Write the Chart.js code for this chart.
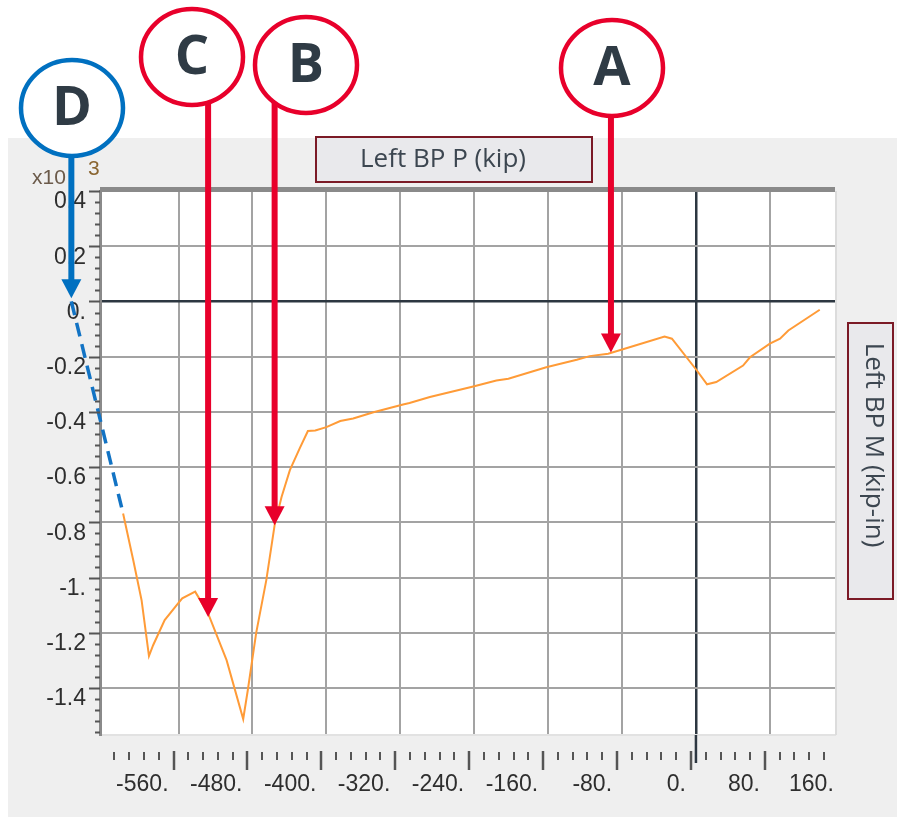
<!DOCTYPE html>
<html>
<head>
<meta charset="utf-8">
<script src="https://cdn.jsdelivr.net/npm/chart.js@4.4.1/dist/chart.umd.min.js"></script>
<style>
  html, body { margin: 0; padding: 0; background: #fff; }
  canvas { display: block; }
</style>
</head>
<body>
<canvas id="chart" width="897" height="817"></canvas>
<script>
// Left BP P (kip) on x, Left BP M (kip-in, x10^3) on y
const pValues = [-620, -609, -600, -592, -587.5, -575, -562, -556, -542, -528,
  -508, -490, -485, -476, -465, -456, -448.5, -439.5, -429, -420,
  -412, -400, -385, -371, -349, -317, -310, -288, -241, -216,
  -203, -162, -129, -115, -95, -71, -34, -26, 1, 12,
  22, 51, 58.5, 80, 91, 100, 134];
const mValues = [-0.768, -0.937, -1.082, -1.284, -1.245, -1.154, -1.100, -1.075, -1.051, -1.130,
  -1.299, -1.512, -1.407, -1.201, -1.009, -0.810, -0.708, -0.611, -0.533, -0.469,
  -0.467, -0.455, -0.433, -0.424, -0.401, -0.373, -0.368, -0.346, -0.308, -0.286,
  -0.280, -0.238, -0.211, -0.198, -0.189, -0.165, -0.127, -0.135, -0.250, -0.300,
  -0.292, -0.232, -0.202, -0.153, -0.135, -0.105, -0.030];

// dashed extension drawn in by hand (D)
const leadP = [-676, -620];
const leadM = [0, -0.768];

const xTickValues = [-560, -480, -400, -320, -240, -160, -80, 0, 80, 160];
const xTickLabels = ['-560.', '-480.', '-400.', '-320.', '-240.', '-160.', '-80.', '0.', '80.', '160.'];
const yTickValues = [-1.4, -1.2, -1, -0.8, -0.6, -0.4, -0.2, 0, 0.2, 0.4];
const yTickLabels = ['-1.4', '-1.2', '-1.', '-0.8', '-0.6', '-0.4', '-0.2', '0.', '0.2', '0.4'];

const callouts = [
  { tag: 'A', p: -92, m: -0.185, color: '#e8002b', cx: 612, cy: 68 },
  { tag: 'B', p: -456, m: -0.81, color: '#e8002b', cx: 306, cy: 65 },
  { tag: 'C', p: -528, m: -1.143, color: '#e8002b', cx: 192, cy: 57 },
  { tag: 'D', p: -676, m: 0.012, color: '#0070c0', cx: 72, cy: 108 }
];

const X_MIN = -645, X_MAX = 150.5;
const tickFont = '"Liberation Sans", Arial, sans-serif';
const boxFont = '"Open Sans", sans-serif';

const backdrop = {
  id: 'backdrop',
  beforeDraw(chart) {
    const { ctx, chartArea: a } = chart;
    ctx.save();
    ctx.fillStyle = '#ffffff';
    ctx.fillRect(0, 0, chart.width, chart.height);
    ctx.fillStyle = '#efefef';
    ctx.fillRect(8, 138, chart.width - 8, chart.height - 138);
    ctx.fillStyle = '#ffffff';
    ctx.fillRect(a.left, a.top, a.right - a.left, a.bottom - a.top);
    ctx.restore();
  }
};

function drawBox(ctx, x, y, w, h) {
  ctx.fillStyle = '#e9e9ec';
  ctx.fillRect(x, y, w, h);
  ctx.strokeStyle = '#7b1a26';
  ctx.lineWidth = 2;
  ctx.strokeRect(x, y, w, h);
}

const frame = {
  id: 'frame',
  afterDraw(chart) {
    const { ctx, chartArea: a } = chart;
    const xs = chart.scales.x, ys = chart.scales.y;
    ctx.save();

    // heavy top edge + light right edge
    ctx.fillStyle = '#8a8a8a';
    ctx.fillRect(a.left, a.top - 4, a.right - a.left, 5);
    ctx.strokeStyle = '#dcdcdc';
    ctx.lineWidth = 2;
    ctx.beginPath();
    ctx.moveTo(a.right + 1, a.top);
    ctx.lineTo(a.right + 1, a.bottom);
    ctx.stroke();

    // y minor / major ticks
    ctx.strokeStyle = '#555555';
    ctx.lineWidth = 2;
    for (let i = 0; ; i++) {
      const v = 0.4 - i * 0.04;
      if (v < ys.min) break;
      const py = Math.round(ys.getPixelForValue(v)) + 0.5;
      const major = Math.abs(v / 0.2 - Math.round(v / 0.2)) < 1e-6;
      ctx.beginPath();
      ctx.moveTo(a.left - (major ? 11 : 5), py);
      ctx.lineTo(a.left, py);
      ctx.stroke();
    }

    // x tick row, sits under the plot with a gap
    for (let v = -624; v <= 144; v += 16) {
      const px = Math.round(xs.getPixelForValue(v)) - 5;
      const major = v % 80 === 0;
      ctx.lineWidth = major ? 2.5 : 2;
      ctx.beginPath();
      ctx.moveTo(px, major ? 751 : 752);
      ctx.lineTo(px, major ? 770 : 760);
      ctx.stroke();
    }

    // x = 0 line runs into the tick row
    ctx.strokeStyle = '#2d3741';
    ctx.lineWidth = 2.5;
    const zx = xs.getPixelForValue(0);
    ctx.beginPath();
    ctx.moveTo(zx, a.bottom);
    ctx.lineTo(zx, 763);
    ctx.stroke();

    // exponent
    ctx.font = '21px ' + tickFont;
    ctx.textBaseline = 'alphabetic';
    ctx.textAlign = 'left';
    ctx.fillStyle = '#6b5a4a';
    ctx.fillText('x10', 32, 184);
    ctx.fillStyle = '#8a6530';
    ctx.fillText('3', 88, 175);

    // axis title boxes
    drawBox(ctx, 316, 137, 276, 45);
    ctx.fillStyle = '#3c4650';
    ctx.font = '26px ' + boxFont;
    ctx.textAlign = 'center';
    ctx.textBaseline = 'middle';
    ctx.fillText('Left BP P (kip)', 443, 160);

    drawBox(ctx, 848, 323, 45, 276);
    ctx.save();
    ctx.translate(873, 445);
    ctx.rotate(Math.PI / 2);
    ctx.fillStyle = '#3c4650';
    ctx.fillText('Left BP M (kip-in)', 0, 0);
    ctx.restore();

    // callouts: arrows first, circles on top
    callouts.forEach(c => {
      const tx = xs.getPixelForValue(c.p);
      const ty = ys.getPixelForValue(c.m);
      ctx.strokeStyle = c.color;
      ctx.fillStyle = c.color;
      ctx.lineWidth = 6;
      ctx.beginPath();
      ctx.moveTo(tx, c.cy);
      ctx.lineTo(tx, ty - 16);
      ctx.stroke();
      ctx.beginPath();
      ctx.moveTo(tx - 10, ty - 19);
      ctx.lineTo(tx + 10, ty - 19);
      ctx.lineTo(tx, ty);
      ctx.closePath();
      ctx.fill();
    });
    callouts.forEach(c => {
      ctx.beginPath();
      ctx.ellipse(c.cx, c.cy, 51, 48, 0, 0, Math.PI * 2);
      ctx.fillStyle = '#ffffff';
      ctx.fill();
      ctx.lineWidth = 4.5;
      ctx.strokeStyle = c.color;
      ctx.stroke();
      ctx.fillStyle = '#2f3b45';
      ctx.font = 'bold 54px ' + boxFont;
      ctx.textAlign = 'center';
      ctx.textBaseline = 'middle';
      ctx.fillText(c.tag, c.cx, c.cy + 2);
    });

    ctx.restore();
  }
};

const gridColor = ctx => {
  const v = ctx.tick ? ctx.tick.value : null;
  if (v === 0) return '#2d3741';
  if (v !== null && (v > X_MAX || v < X_MIN) && ctx.scale.axis === 'x') return 'rgba(0,0,0,0)';
  return '#a3a3a3';
};
const gridWidth = ctx => (ctx.tick && ctx.tick.value === 0 ? 2.5 : 2);

new Chart(document.getElementById('chart'), {
  type: 'scatter',
  data: {
    datasets: [
      {
        data: pValues.map((p, i) => ({ x: p, y: mValues[i] })),
        showLine: true,
        borderColor: '#ff9b37',
        borderWidth: 2,
        pointRadius: 0,
        tension: 0
      },
      {
        data: leadP.map((p, i) => ({ x: p, y: leadM[i] })),
        showLine: true,
        borderColor: '#1273c4',
        borderWidth: 3.5,
        borderDash: [14, 8],
        pointRadius: 0,
        clip: false
      }
    ]
  },
  options: {
    responsive: false,
    animation: false,
    events: [],
    layout: { padding: { left: 0, top: 191, right: 62, bottom: 0 } },
    plugins: { legend: { display: false }, tooltip: { enabled: false } },
    scales: {
      x: {
        type: 'linear',
        min: X_MIN,
        max: X_MAX,
        afterBuildTicks: s => { s.ticks = xTickValues.map(v => ({ value: v })); },
        afterFit: s => { s.height = 82; s.paddingLeft = 0; s.paddingRight = 0; },
        grid: { color: gridColor, lineWidth: gridWidth, drawTicks: false },
        border: { display: true, color: '#e2e2e2', width: 2 },
        ticks: {
          autoSkip: false,
          maxRotation: 0,
          align: 'end',
          labelOffset: -10,
          padding: 36,
          color: '#2e2e2e',
          font: { family: tickFont, size: 23 },
          callback: (v, i) => xTickLabels[i]
        }
      },
      y: {
        type: 'linear',
        min: -1.57,
        max: 0.4,
        afterBuildTicks: s => { s.ticks = yTickValues.map(v => ({ value: v })); },
        afterFit: s => { s.width = 100; },
        grid: { color: gridColor, lineWidth: gridWidth, drawTicks: false },
        border: { display: true, color: '#8a8a8a', width: 3 },
        ticks: {
          autoSkip: false,
          padding: 14,
          labelOffset: 11,
          color: '#2e2e2e',
          font: { family: tickFont, size: 23 },
          callback: (v, i) => yTickLabels[i]
        }
      }
    }
  },
  plugins: [backdrop, frame]
});
</script>
</body>
</html>
